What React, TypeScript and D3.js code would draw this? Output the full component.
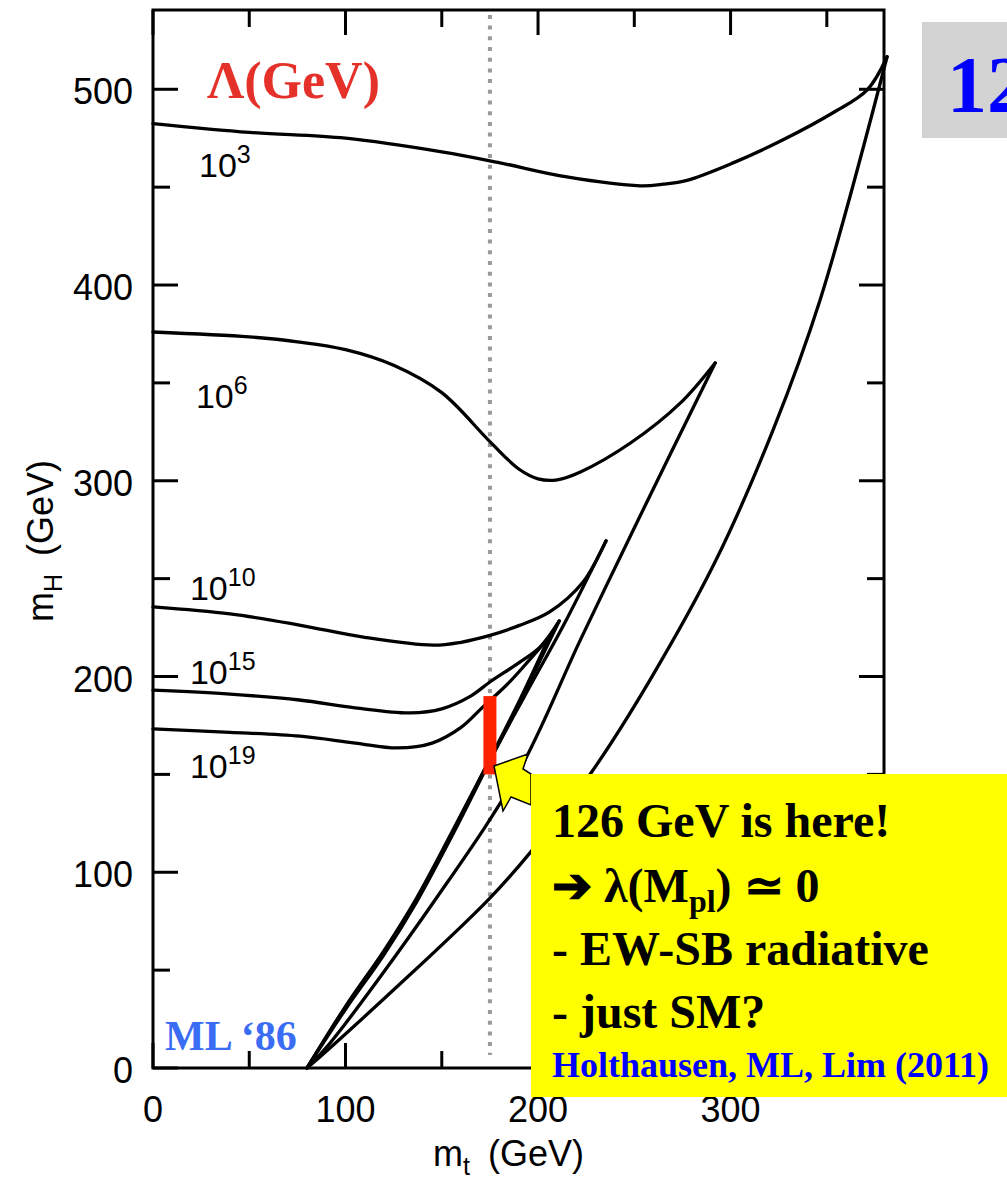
import { useEffect, useRef } from 'react';
import * as d3 from 'd3';

// upper (triviality) and lower (stability) bounds, [m_t, m_H] in GeV
const upper1e3 = [[0, 482.5], [50, 478], [100, 475], [150, 468], [180.3, 462.4], [215, 455.2], [253, 450.7], [265, 451.5], [277.4, 453.5], [301.3, 462.4], [327.3, 474.2], [353.2, 488], [371, 499.7], [381.3, 516.6]];
const lower1e3 = [[80, 0], [92.5, 10.7], [174, 85.8], [195.8, 109.9], [227.5, 150.7], [258.2, 198.3], [292.5, 259.6], [322.1, 326], [346.5, 392.4], [381.3, 516.6]];
const upper1e6 = [[0, 376], [50, 373.5], [75, 371], [100, 367], [125, 359], [150, 345], [175, 320], [190, 306], [200, 301], [210, 300.5], [222, 304.5], [248, 319.3], [274, 339.8], [292, 360.2]];
const lower1e6 = [[80, 0], [92, 12.8], [146.5, 85.8], [189.6, 150.7], [222, 218.7], [252, 280], [292, 360.2]];
const upper1e10 = [[0, 235.6], [40, 232], [76, 226.3], [110, 220], [145.5, 216], [160, 217.5], [175, 221], [190, 226], [206, 233], [223.4, 248.3], [235.3, 269.3]];
const lower1e10 = [[80, 0], [100, 31.5], [120, 60], [137, 87], [155, 120], [172, 152], [193, 190], [214.4, 228.4], [235.3, 269.3]];
const upper1e15 = [[0, 193], [40, 191], [76, 188], [105, 184], [133.5, 181.4], [150, 183.5], [165, 190], [175, 197.2], [190, 207], [201, 215], [211, 228.4]];
const lower1e15 = [[80, 0], [100, 30], [120, 58], [137, 85], [155, 118], [172.5, 152], [192, 190], [211, 228.4]];
const upper1e19 = [[0, 173.2], [40, 171.5], [76.4, 169.5], [105, 166], [127, 163.5], [145, 166], [160, 174], [171.4, 184.5], [185, 197], [196, 209], [205.7, 220]];
const lower1e19 = [[80, 0], [100, 31], [120, 58.5], [137, 85.5], [155, 119], [172.5, 153], [190, 187], [205.7, 220]];

const curves = [upper1e3, lower1e3, upper1e6, lower1e6, upper1e10, lower1e10, upper1e15, lower1e15, upper1e19, lower1e19];

const lambdaExps = ['3', '6', '10', '15', '19'];
// label anchor [m_t, m_H]
const lambdaLabelAt = [[23.9, 455.3], [22.3, 337.2], [19.2, 239.1], [19.2, 196.2], [19.2, 148.2]];

const xMajor = [0, 100, 200, 300];
const xMinor = [50, 150, 250, 350];
const yMajor = [0, 100, 200, 300, 400, 500];
const yMinor = [50, 150, 250, 350, 450];

const mtExp = 175;
const higgsBand = [150, 190];

const x = d3.scaleLinear().domain([0, 379.7]).range([153, 884]);
const y = d3.scaleLinear().domain([0, 540.5]).range([1068, 10]);

const sans = 'Liberation Sans, Arial, Helvetica, sans-serif';
const serif = 'Liberation Serif, Times New Roman, serif';

export default function App() {
  const gRef = useRef<SVGGElement>(null);

  useEffect(() => {
    const g = d3.select(gRef.current);
    g.selectAll('*').remove();

    g.append('line')
      .attr('x1', x(mtExp)).attr('x2', x(mtExp))
      .attr('y1', y(538)).attr('y2', y(6.6))
      .attr('stroke', '#999').attr('stroke-width', 4)
      .attr('stroke-dasharray', '4 6.7');

    const line = d3.line<number[]>()
      .x(d => x(d[0]))
      .y(d => y(d[1]))
      .curve(d3.curveCatmullRom.alpha(0.5));

    curves.forEach(c => {
      g.append('path')
        .attr('d', line(c))
        .attr('fill', 'none')
        .attr('stroke', '#000')
        .attr('stroke-width', 3.3)
        .attr('stroke-linejoin', 'round')
        .attr('stroke-linecap', 'round');
    });

    g.append('rect')
      .attr('x', x(0)).attr('y', y(540.5))
      .attr('width', x(379.7) - x(0)).attr('height', y(0) - y(540.5))
      .attr('fill', 'none').attr('stroke', '#000').attr('stroke-width', 3);

    const ticks = g.append('g').attr('stroke', '#000').attr('stroke-width', 3);
    const addX = (vals: number[], len: number) => vals.forEach(v => {
      ticks.append('line').attr('x1', x(v)).attr('x2', x(v)).attr('y1', y(0)).attr('y2', y(0) - len);
      ticks.append('line').attr('x1', x(v)).attr('x2', x(v)).attr('y1', y(540.5)).attr('y2', y(540.5) + len);
    });
    const addY = (vals: number[], len: number) => vals.forEach(v => {
      ticks.append('line').attr('y1', y(v)).attr('y2', y(v)).attr('x1', x(0)).attr('x2', x(0) + len);
      ticks.append('line').attr('y1', y(v)).attr('y2', y(v)).attr('x1', x(379.7)).attr('x2', x(379.7) - len);
    });
    addX(xMajor, 25); addX(xMinor, 17);
    addY(yMajor, 25); addY(yMinor, 17);

    g.selectAll('.xl').data(xMajor).enter().append('text')
      .attr('x', d => x(d)).attr('y', 1122)
      .attr('text-anchor', 'middle')
      .attr('font-family', sans).attr('font-size', 36)
      .text(d => d);

    g.selectAll('.yl').data(yMajor).enter().append('text')
      .attr('x', 133).attr('y', d => y(d) + 15)
      .attr('text-anchor', 'end')
      .attr('font-family', sans).attr('font-size', 36)
      .text(d => d);
  }, []);

  const bx = x(mtExp) - 6.5;

  return (
    <svg width={1007} height={1183} style={{ position: 'absolute', left: 0, top: 0, background: '#fff' }}>
      <rect width={1007} height={1183} fill="#fff" />
      <g ref={gRef} />

      {lambdaExps.map((e, i) => (
        <text key={e} x={x(lambdaLabelAt[i][0])} y={y(lambdaLabelAt[i][1])} fontFamily={sans} fontSize={34}>
          10<tspan fontSize={25} dy={-14}>{e}</tspan>
        </text>
      ))}

      <text x={207} y={98} fontFamily={serif} fontWeight="bold" fontSize={52} fill="#e4322b">Λ(GeV)</text>

      <text x={433} y={1166} fontFamily={sans} fontSize={36}>
        m<tspan fontSize={25} dy={9}>t</tspan><tspan dy={-9} dx={18}>(GeV)</tspan>
      </text>
      <text transform="translate(53,622) rotate(-90)" fontFamily={sans} fontSize={36}>
        m<tspan fontSize={25} dy={9}>H</tspan><tspan dy={-9} dx={18}>(GeV)</tspan>
      </text>

      <rect x={bx} y={y(higgsBand[1])} width={13} height={y(higgsBand[0]) - y(higgsBand[1])} fill="#ff2200" />

      <text x={165} y={1050} fontFamily={serif} fontWeight="bold" fontSize={42} fill="#3a6cf4">ML ‘86</text>

      <rect x={922} y={22} width={85} height={116} fill="#d3d3d3" />
      <text x={947} y={112} fontFamily={serif} fontWeight="bold" fontSize={80} fill="#0000ff">12</text>

      <path d="M531,774 L523,769 L528,754 L494,766 L503,811 L511,797 L531,805 Z" fill="#ffff00" stroke="#000" strokeWidth={1.5} />
      <rect x={531} y={774} width={476} height={323} fill="#ffff00" />
      <g fontFamily={serif} fontWeight="bold" fontSize={48} fill="#000">
        <text x={552} y={837}>126 GeV is here!</text>
        <text x={552} y={902}>➔ λ(M<tspan fontSize={32} dy={10}>pl</tspan><tspan dy={-10}>) ≃ 0</tspan></text>
        <text x={552} y={965}>- EW-SB radiative</text>
        <text x={552} y={1028}>- just SM?</text>
      </g>
      <text x={552} y={1077} fontFamily={serif} fontWeight="bold" fontSize={36} fill="#0000ff">Holthausen, ML, Lim (2011)</text>
    </svg>
  );
}
